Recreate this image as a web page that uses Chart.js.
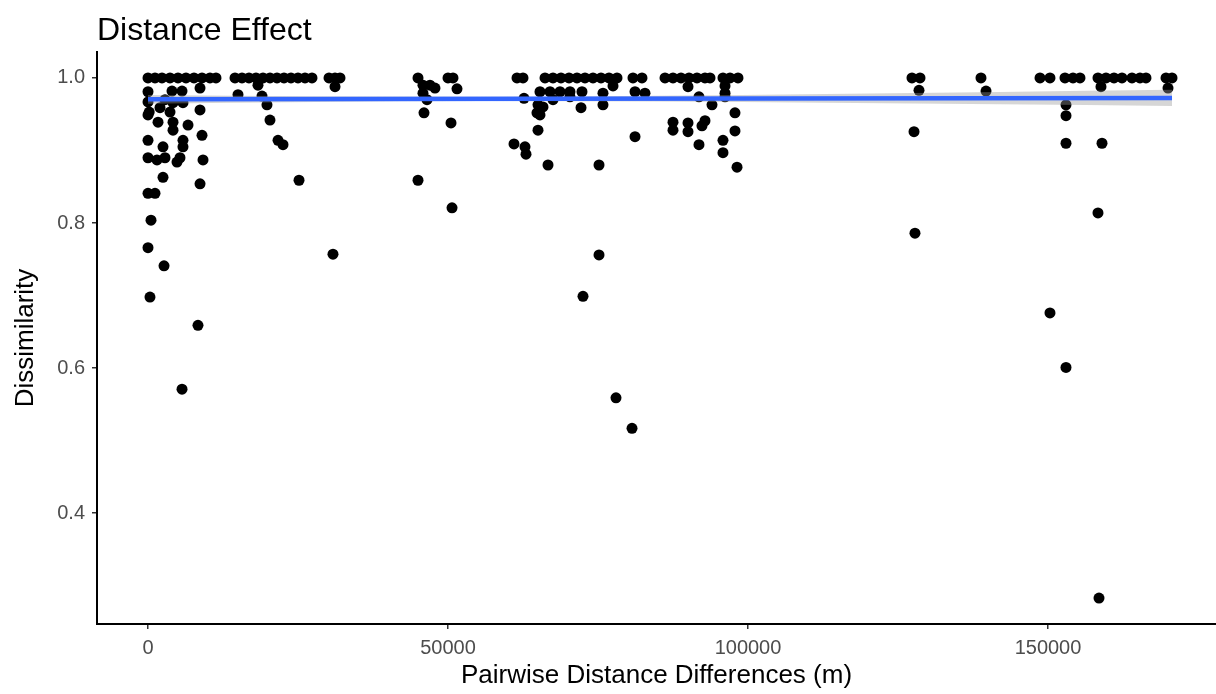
<!DOCTYPE html>
<html>
<head>
<meta charset="utf-8">
<title>Distance Effect</title>
<script src="https://cdn.jsdelivr.net/npm/chart.js@4.4.1/dist/chart.umd.min.js"></script>
<style>
  html, body { margin: 0; padding: 0; background: #fff; overflow: hidden; }
  #wrap { width: 1216px; height: 694px; position: relative; }
</style>
</head>
<body>
<div id="wrap"><canvas id="chartCanvas"></canvas></div>
<script>
// pairs with distance < ~35 km
const nearDist = [
  0, 1170, 2330, 3670, 5000, 6330, 7670, 9000, 10330, 11330,
  14500, 15670, 16830, 18000, 19170, 20330, 21500, 22670, 23830, 25000,
  26170, 27330, 30170, 31170, 32000,
  0, 4000, 5670, 8670, 0, 4170, 5830, 15000,
  200, 3670, 8670, 1670, 4170, 4170, 6670, 9000,
  0, 2500, 5830, 5830, 0, 1500, 2830, 5330,
  4830, 9170, 2500, 8670, 0, 1170, 500, 0,
  2670, 330, 8330, 5670, 18330, 19000, 19830, 20330,
  21670, 22500, 25170, 30830, 31170, 0, 2830, 2000
];
const nearDiss = [
  1, 1, 1, 1, 1, 1, 1, 1, 1, 1,
  1, 1, 1, 1, 1, 1, 1, 1, 1, 1,
  1, 1, 1, 1, 1,
  0.981, 0.982, 0.982, 0.986, 0.967, 0.966, 0.966, 0.977,
  0.953, 0.953, 0.956, 0.939, 0.939, 0.928, 0.935, 0.921,
  0.914, 0.905, 0.914, 0.905, 0.890, 0.887, 0.890, 0.890,
  0.884, 0.887, 0.863, 0.854, 0.841, 0.841, 0.804, 0.766,
  0.741, 0.698, 0.659, 0.571, 0.990, 0.975, 0.963, 0.942,
  0.914, 0.908, 0.859, 0.757, 0.988, 0.949, 0.970, 0.959
];

// pairs between ~45 and ~100 km
const midDist = [
  45000, 50000, 50830, 61500, 62500, 66170, 67500, 68830, 70170, 71500,
  72830, 74170, 75500, 76830, 78170, 80830, 82330, 86170, 87500, 88830,
  90170, 91500, 92830, 93670, 95830, 97000, 98330,
  45830, 47000, 47830, 51500, 77500, 90000, 96170,
  45830, 65330, 67000, 68670, 70330, 72330, 81170, 82830, 75830, 96170,
  46500, 62670, 67500, 70330, 91830, 96170,
  65000, 65830, 72170, 75830, 94000,
  46000, 64830, 97830, 65330,
  50500, 87500, 90000, 92830, 92330,
  65000, 87500, 90000, 97830,
  81170, 95830,
  61000, 62830, 63000, 91830, 95830,
  66670, 75170, 98170,
  45000, 50670, 75170, 72500, 78000, 80670
];
const midDiss = [
  1, 1, 1, 1, 1, 1, 1, 1, 1, 1,
  1, 1, 1, 1, 1, 1, 1, 1, 1, 1,
  1, 1, 1, 1, 1, 1, 1,
  0.990, 0.990, 0.986, 0.985, 0.989, 0.988, 0.989,
  0.979, 0.981, 0.981, 0.981, 0.981, 0.981, 0.981, 0.979, 0.979, 0.979,
  0.970, 0.972, 0.970, 0.974, 0.974, 0.974,
  0.963, 0.960, 0.959, 0.963, 0.963,
  0.952, 0.952, 0.952, 0.949,
  0.938, 0.939, 0.938, 0.941, 0.934,
  0.928, 0.928, 0.926, 0.927,
  0.919, 0.914,
  0.909, 0.905, 0.895, 0.908, 0.897,
  0.880, 0.880, 0.877,
  0.859, 0.821, 0.756, 0.699, 0.559, 0.517
];

// pairs beyond ~125 km
const farDist = [
  127330, 128670, 138830, 148670, 150330, 152830, 154170, 155330, 158330, 159670,
  161000, 162330, 164000, 165330, 166330, 169670, 170670,
  128500, 139670, 158830, 170000, 153000, 153000, 127670,
  153000, 159000, 158330, 127830, 150330, 153000, 158500
];
const farDiss = [
  1, 1, 1, 1, 1, 1, 1, 1, 1, 1,
  1, 1, 1, 1, 1, 1, 1,
  0.983, 0.982, 0.988, 0.986, 0.963, 0.948, 0.926,
  0.910, 0.910, 0.814, 0.786, 0.676, 0.601, 0.283
];

// linear fit and its confidence band
const fitX = [0, 170670];
const fitY = [0.9705, 0.9725];
const bandX = [0, 28000, 56000, 85000, 113000, 142000, 170670];
const bandLow = [0.9645, 0.9668, 0.9682, 0.9675, 0.9657, 0.9636, 0.9614];
const bandHigh = [0.9765, 0.9748, 0.9742, 0.9755, 0.9779, 0.9807, 0.9836];

const xTicks = [0, 50000, 100000, 150000];
const yTicks = [0.4, 0.6, 0.8, 1.0];

const distance = nearDist.concat(midDist, farDist);
const dissimilarity = nearDiss.concat(midDiss, farDiss);

const FONT = '"Liberation Sans", Arial, Helvetica, sans-serif';

const toXY = (xs, ys) => xs.map((x, i) => ({ x, y: ys[i] }));

// ggplot-style title, left aligned with the panel
const plotTitle = {
  id: 'plotTitle',
  afterDraw(chart) {
    const c = chart.ctx;
    c.save();
    c.font = `32px ${FONT}`;
    c.fillStyle = '#000';
    c.textAlign = 'left';
    c.textBaseline = 'alphabetic';
    c.fillText('Distance Effect', chart.chartArea.left, 40);
    c.restore();
  }
};

const ctx = document.getElementById('chartCanvas');
new Chart(ctx, {
  type: 'scatter',
  data: {
    datasets: [
      {
        label: 'Dissimilarity',
        data: toXY(distance, dissimilarity),
        backgroundColor: '#000',
        borderWidth: 0,
        pointRadius: 5.5,
        pointHoverRadius: 5.5,
        order: 4
      },
      {
        type: 'line',
        label: 'lower',
        data: toXY(bandX, bandLow),
        borderColor: 'transparent',
        borderWidth: 0,
        pointRadius: 0,
        cubicInterpolationMode: 'monotone',
        fill: false,
        order: 3
      },
      {
        type: 'line',
        label: 'upper',
        data: toXY(bandX, bandHigh),
        borderColor: 'transparent',
        borderWidth: 0,
        pointRadius: 0,
        cubicInterpolationMode: 'monotone',
        backgroundColor: 'rgba(153,153,153,0.4)',
        fill: '-1',
        order: 2
      },
      {
        type: 'line',
        label: 'fit',
        data: toXY(fitX, fitY),
        borderColor: '#3366FF',
        borderWidth: 4.5,
        pointRadius: 0,
        fill: false,
        order: 1
      }
    ]
  },
  options: {
    responsive: true,
    maintainAspectRatio: false,
    animation: false,
    events: [],
    layout: { autoPadding: false, padding: { top: 52, left: 0, right: 0, bottom: 0 } },
    plugins: {
      legend: { display: false },
      tooltip: { enabled: false }
    },
    scales: {
      x: {
        type: 'linear',
        min: -8500,
        max: 178000,
        afterBuildTicks: (s) => { s.ticks = xTicks.map(v => ({ value: v })); },
        afterFit: (s) => {
          s.height = 70;
          s.paddingLeft = 0;
          s.paddingRight = 0;
        },
        ticks: {
          color: '#4D4D4D',
          font: { family: FONT, size: 20 },
          padding: 7,
          autoSkip: false,
          maxRotation: 0,
          callback: (v) => String(v)
        },
        grid: { drawOnChartArea: false, tickLength: 5, color: '#333', lineWidth: 1.5 },
        border: { color: '#000', width: 2 },
        title: {
          display: true,
          text: 'Pairwise Distance Differences (m)',
          color: '#000',
          font: { family: FONT, size: 26 },
          padding: { top: 0, bottom: 3 }
        }
      },
      y: {
        type: 'linear',
        min: 0.2472,
        max: 1.0358,
        afterBuildTicks: (s) => { s.ticks = yTicks.map(v => ({ value: v })); },
        afterFit: (s) => { s.width = 97; },
        ticks: {
          color: '#4D4D4D',
          font: { family: FONT, size: 20 },
          padding: 7,
          autoSkip: false,
          callback: (v) => v.toFixed(1)
        },
        grid: { drawOnChartArea: false, tickLength: 5, color: '#333', lineWidth: 1.5 },
        border: { color: '#000', width: 2 },
        title: {
          display: true,
          text: 'Dissimilarity',
          color: '#000',
          font: { family: FONT, size: 26 },
          padding: { top: 10, bottom: 0 }
        }
      }
    }
  },
  plugins: [plotTitle]
});
</script>
</body>
</html>
